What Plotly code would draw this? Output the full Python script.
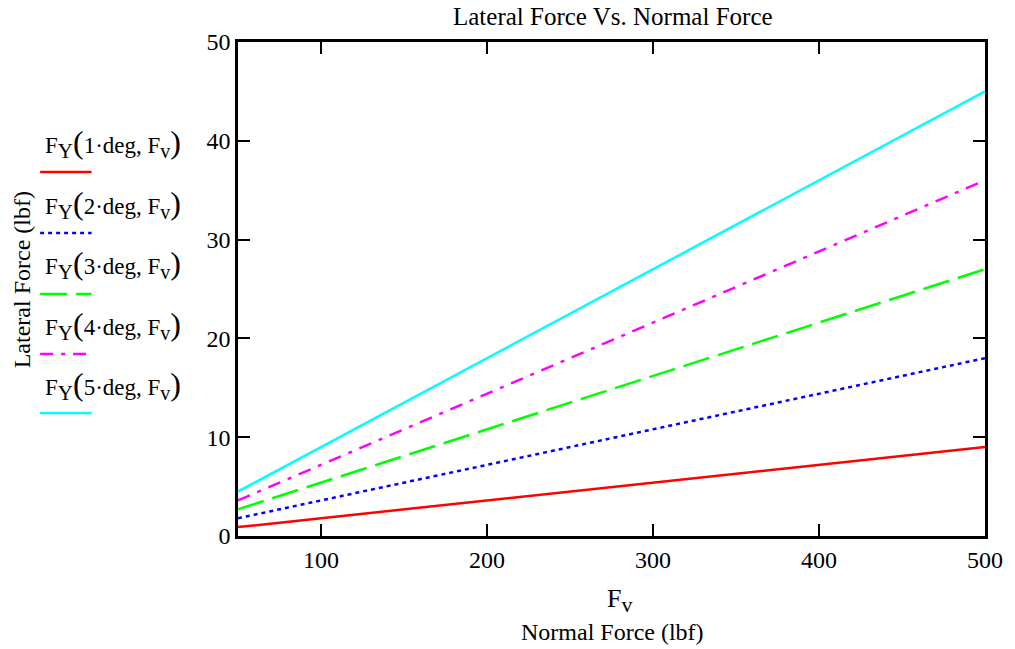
import plotly.graph_objects as go

# Normal force range (lbf) and lateral force at each end for each slip angle
normal_force = [50, 500]
slip_angles = [1, 2, 3, 4, 5]
lateral_force = {
    1: [0.9, 9.0],
    2: [1.8, 18.0],
    3: [2.7, 27.0],
    4: [3.6, 36.0],
    5: [4.5, 45.0],
}
x_ticks = [100, 200, 300, 400, 500]
y_ticks = [0, 10, 20, 30, 40, 50]

colors = {1: "#ff0000", 2: "#0000ff", 3: "#00ff00", 4: "#ff00ff", 5: "#00ffff"}
dashes = {1: "solid", 2: "4px,4px", 3: "27px,9px", 4: "13px,8px,4px,8px", 5: "solid"}

FONT = "Liberation Serif, Times New Roman, serif"
W, H = 1015, 649
L, R, T, B = 238, 993, 42, 536  # plot-area pixel bounds


def px(xp):
    return (xp - L) / (R - L)


def py(yp):
    return (B - yp) / (B - T)


fig = go.Figure()
for a in slip_angles:
    fig.add_trace(go.Scatter(
        x=normal_force, y=lateral_force[a], mode="lines",
        line=dict(color=colors[a], width=2.5, dash=dashes[a]),
        showlegend=False, hoverinfo="skip",
    ))

axis_common = dict(
    showline=True, linecolor="black", linewidth=2.5, mirror="ticks",
    ticks="inside", ticklen=12, tickwidth=2, tickcolor="black",
    showgrid=False, zeroline=False,
    tickfont=dict(family=FONT, size=24, color="black"),
)
fig.update_xaxes(range=[50, 500], tickvals=x_ticks, **axis_common)
fig.update_yaxes(range=[0, 50], tickvals=y_ticks, **axis_common)

annotations = [
    dict(text="Lateral Force Vs. Normal Force", x=px(617), y=py(17),
         font=dict(size=25)),
    dict(text="F<sub><span style='font-size:22px'>v</span></sub>",
         x=px(624), y=py(600), font=dict(size=26)),
    dict(text="Normal Force (lbf)", x=px(617), y=py(632), font=dict(size=24)),
    dict(text="Lateral Force (lbf)", x=px(20), y=py(280), textangle=-90,
         font=dict(size=24)),
]

shapes = []
row_text_y = [143, 204, 264, 325, 385]
row_line_y = [172, 233, 294, 354, 413]
for a, ty, ly in zip(slip_angles, row_text_y, row_line_y):
    label = (
        "F<sub><span style='font-size:21px'>Y</span></sub>"
        "<span style='font-size:32px'>(</span>"
        f"{a}·deg, F<sub><span style='font-size:20px'>v</span></sub>"
        "<span style='font-size:32px'>)</span>"
    )
    annotations.append(dict(text=label, x=px(41), y=py(ty), xanchor="left",
                            font=dict(size=23)))
    shapes.append(dict(type="line", xref="paper", yref="paper",
                       x0=px(38), x1=px(90), y0=py(ly), y1=py(ly),
                       line=dict(color=colors[a], width=2.5, dash=dashes[a])))

for ann in annotations:
    ann.setdefault("xanchor", "center")
    ann.update(xref="paper", yref="paper", showarrow=False, yanchor="middle")
    ann["font"].update(family=FONT, color="black")

fig.update_layout(
    width=W, height=H,
    margin=dict(l=L, r=W - R, t=T, b=H - B),
    paper_bgcolor="white", plot_bgcolor="white",
    annotations=annotations, shapes=shapes,
    font=dict(family=FONT, color="black"),
)

fig.write_html("out.html")
